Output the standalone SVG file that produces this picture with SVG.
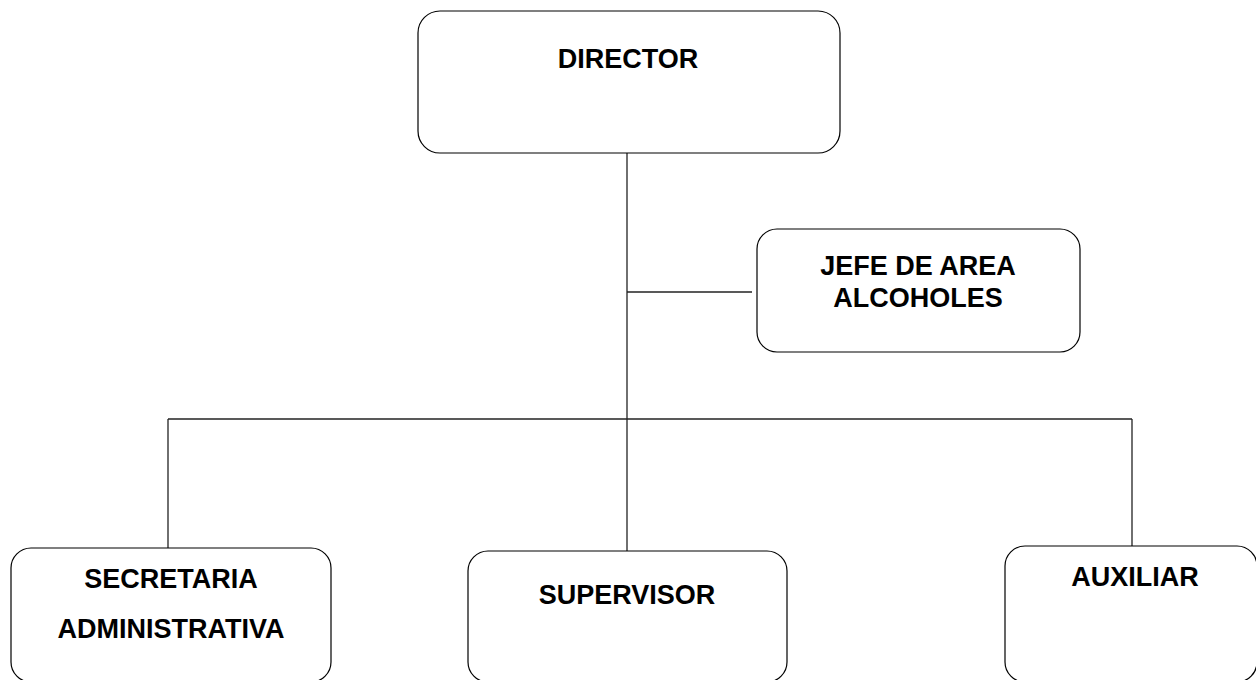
<svg xmlns="http://www.w3.org/2000/svg" width="1256" height="680" viewBox="0 0 1256 680">
<style>
.box{fill:#fff;stroke:#000;stroke-width:1.2}
.lbl{font-family:"Liberation Sans",Arial,sans-serif;font-weight:bold;font-size:27px;fill:#000;text-anchor:middle}
.ln{stroke:#222;stroke-width:1.3;fill:none}
</style>
<rect width="1256" height="680" fill="#fff"/>
<g id="connectors">
<line class="ln" x1="627" y1="153" x2="627" y2="551"/>
<line class="ln" x1="627" y1="292" x2="752" y2="292"/>
<line class="ln" x1="168" y1="419" x2="1132" y2="419"/>
<line class="ln" x1="168" y1="419" x2="168" y2="548"/>
<line class="ln" x1="1132" y1="419" x2="1132" y2="546"/>
</g>
<g id="director">
<rect class="box" x="418" y="11" width="422" height="142" rx="22"/>
<text class="lbl" x="628" y="68">DIRECTOR</text>
</g>
<g id="jefe">
<rect class="box" x="757" y="229" width="323" height="123" rx="20"/>
<text class="lbl" x="918" y="275">JEFE DE AREA</text>
<text class="lbl" x="918" y="307">ALCOHOLES</text>
</g>
<g id="secretaria">
<rect class="box" x="11" y="548" width="320" height="134" rx="20"/>
<text class="lbl" x="171" y="588">SECRETARIA</text>
<text class="lbl" x="171" y="638">ADMINISTRATIVA</text>
</g>
<g id="supervisor">
<rect class="box" x="468" y="551" width="319" height="131" rx="20"/>
<text class="lbl" x="627" y="604">SUPERVISOR</text>
</g>
<g id="auxiliar">
<rect class="box" x="1005" y="546" width="252" height="136" rx="20"/>
<text class="lbl" x="1135" y="586">AUXILIAR</text>
</g>
</svg>
